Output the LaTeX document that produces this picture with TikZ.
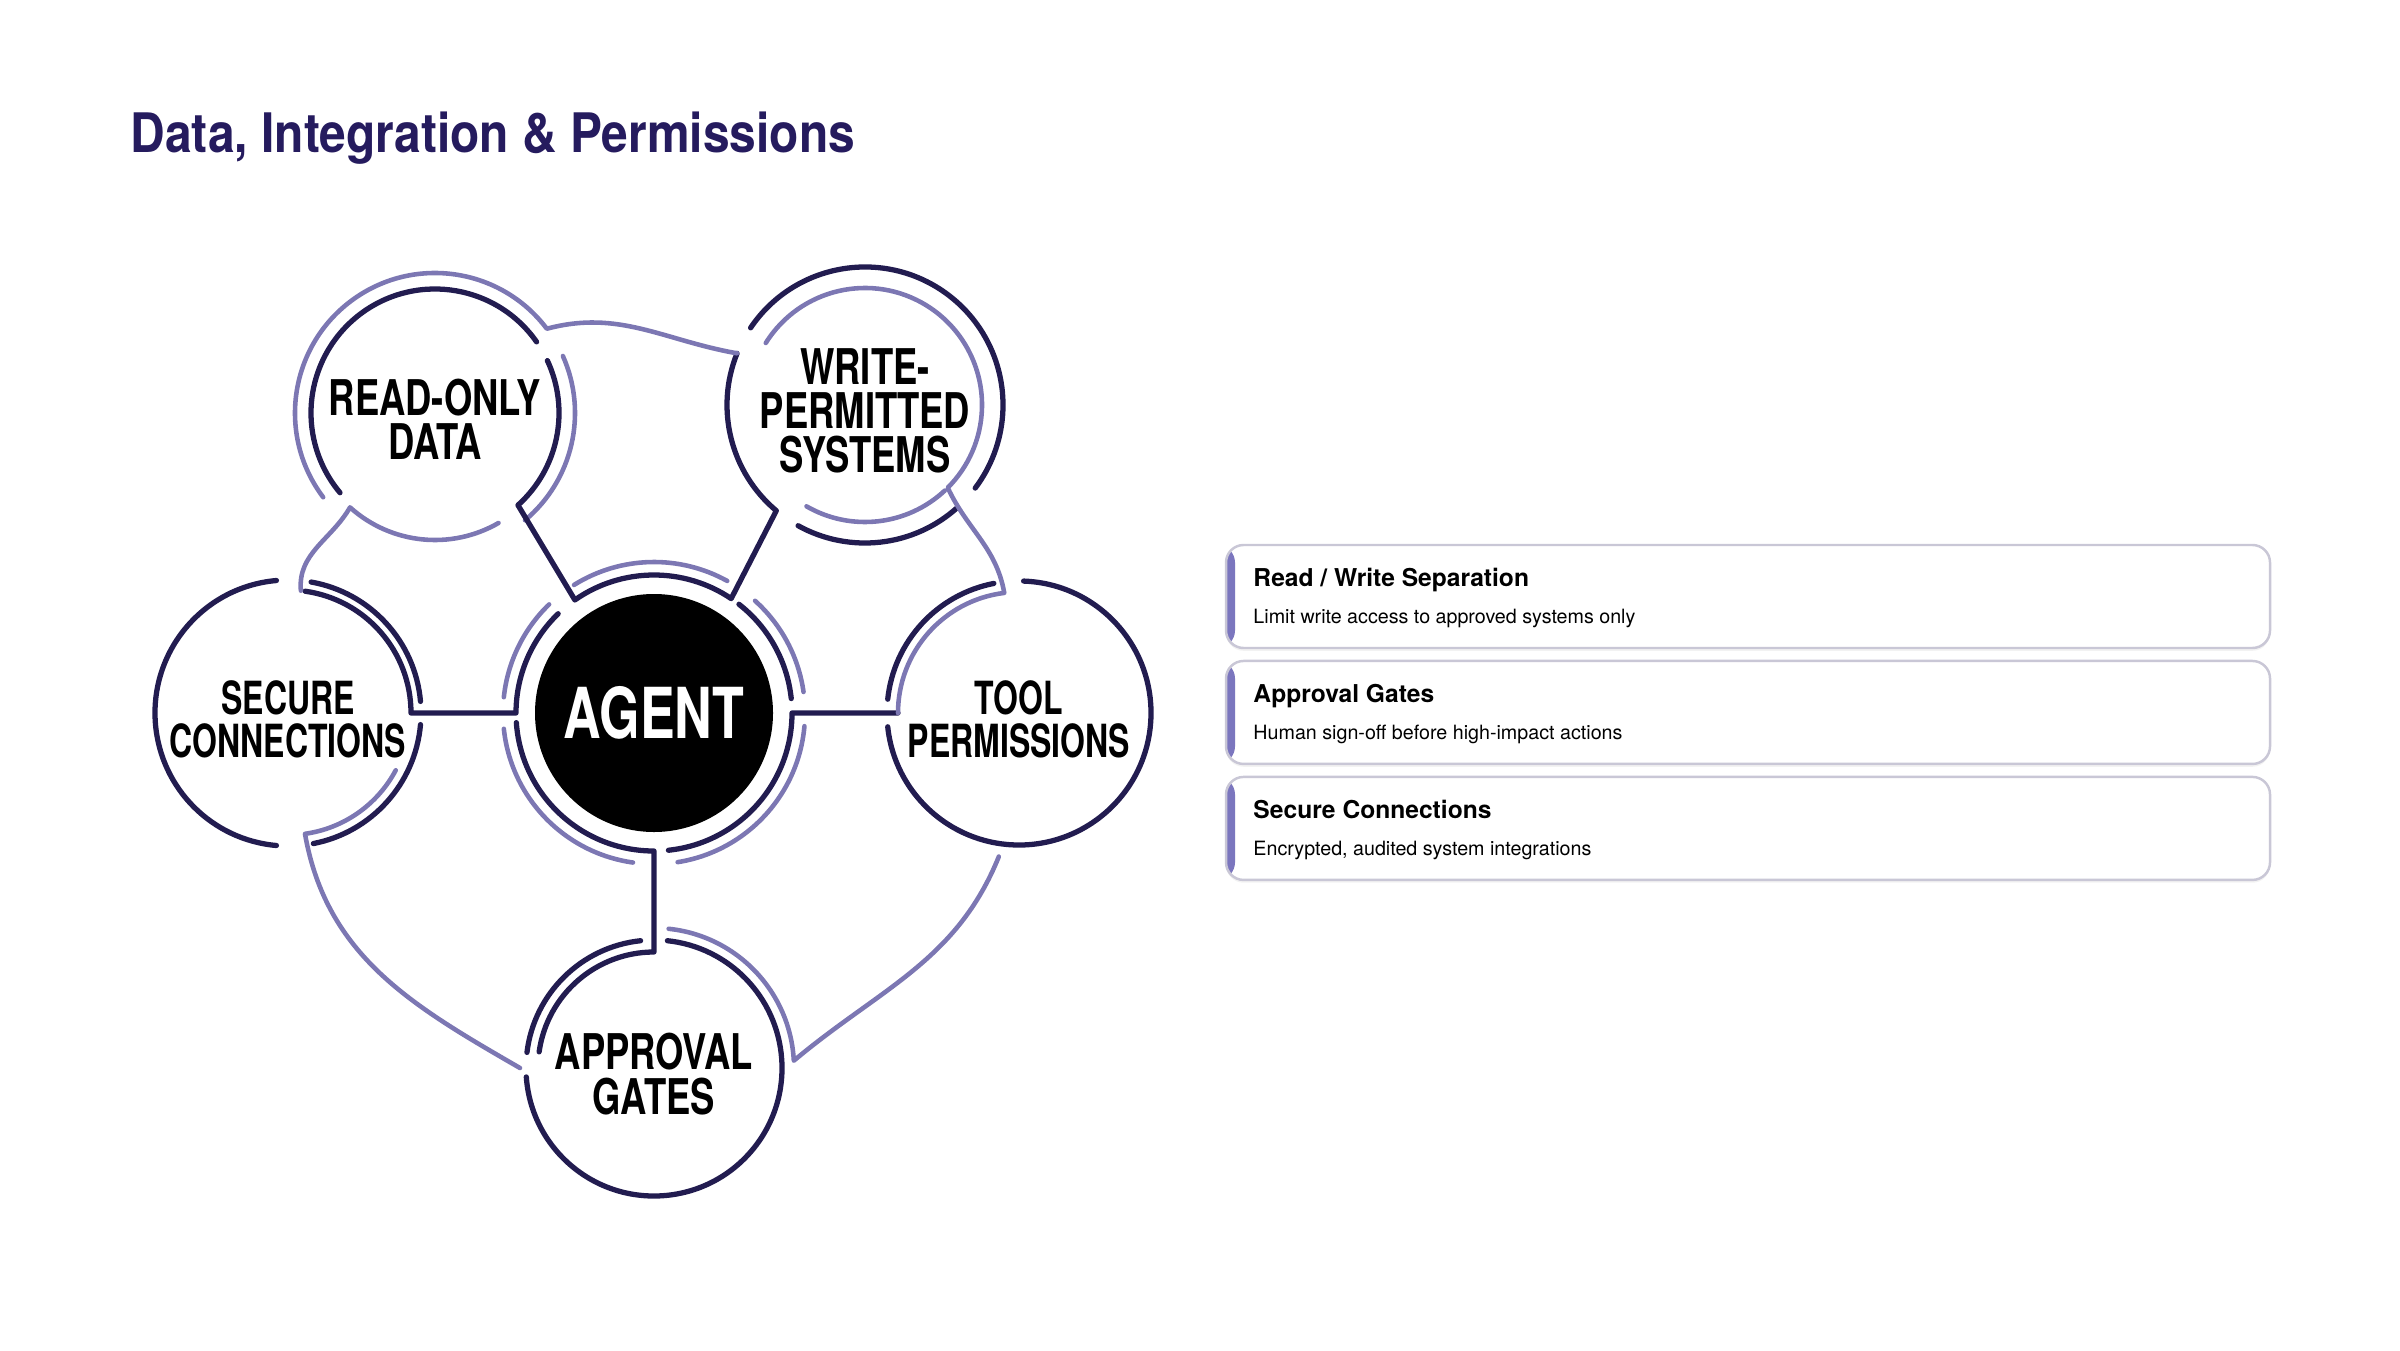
\documentclass[tikz,border=0pt]{standalone}
\usepackage{fontspec}
\setmainfont{TeX Gyre Heros}
\newfontfamily\condfont[FakeStretch=0.74]{TeX Gyre Heros}
\newfontfamily\narrowfont[FakeStretch=0.70]{TeX Gyre Heros}
\newfontfamily\headfont[FakeStretch=0.88]{TeX Gyre Heros}
\usepackage{tikz}
\usetikzlibrary{positioning,shadows}
\definecolor{navy}{HTML}{221C50}
\definecolor{lav}{HTML}{7C77B3}
\definecolor{titleink}{HTML}{251B5E}
\definecolor{accent}{HTML}{7B76BE}
\definecolor{cardline}{HTML}{C9C7D6}
\tikzset{
  navyline/.style={draw=navy, line width=1.5pt, line cap=round, line join=round},
  lavline/.style={draw=lav, line width=1.3pt, line cap=round, line join=round},
  ringnode/.style={circle, inner sep=0pt, outer sep=0pt},
  ringlabel/.style={align=center, inner sep=0pt, yshift=-0.06cm, font=\condfont\bfseries\fontsize{14}{12.6}\selectfont},
  widelabel/.style={ringlabel, font=\narrowfont\bfseries\fontsize{13}{12.2}\selectfont},
  cardbox/.style={draw=cardline, line width=0.7pt, rounded corners=5pt, fill=white, minimum width=10.44cm, minimum height=1.03cm,
    drop shadow={shadow xshift=0pt, shadow yshift=-0.8pt, opacity=0.10},
    path picture={\fill[accent] (path picture bounding box.south west) rectangle ([xshift=0.09cm]path picture bounding box.north west);}},
  cardtitle/.style={anchor=base west, inner sep=0pt, font=\bfseries\fontsize{7}{8}\selectfont},
  cardtext/.style={anchor=base west, inner sep=0pt, font=\fontsize{5.6}{7}\selectfont}
}

\begin{document}
\begin{tikzpicture}
  \useasboundingbox (0,0) rectangle (24,13.5);
  \node[anchor=base west, inner sep=0pt, text=titleink, font=\headfont\bfseries\fontsize{15.5}{18}\selectfont] (title) at (1.30,11.97) {Data, Integration \& Permissions};

  \node[ringnode, minimum size=2.38cm, fill=black, text=white, font=\condfont\bfseries\fontsize{20}{20}\selectfont] (agent) at (6.54,6.37) {AGENT};
  \node[ringnode, minimum size=2.76cm] (agentring) at (agent.center) {};
  \node[ringnode, minimum size=2.48cm, label={[ringlabel]center:{READ-ONLY\\DATA}}] (rodata) at (4.35,9.37) {};
  \node[ringnode, minimum size=2.76cm, label={[ringlabel]center:{WRITE-\\PERMITTED\\SYSTEMS}}] (wpsys) at (8.65,9.45) {};
  \node[ringnode, minimum size=2.66cm, label={[widelabel]center:{SECURE\\CONNECTIONS}}] (secconn) at (2.88,6.37) {};
  \node[ringnode, minimum size=2.64cm, label={[widelabel]center:{TOOL\\PERMISSIONS}}] (toolperm) at (10.19,6.37) {};
  \node[ringnode, minimum size=2.56cm, label={[ringlabel]center:{APPROVAL\\GATES}}] (apgates) at (6.54,2.82) {};

  % rings round the agent
  \draw[navyline] ([shift={(52:1.38)}]agent.center) arc[start angle=52, end angle=6, radius=1.38];
  \draw[lavline] ([shift={(122:1.51)}]agent.center) arc[start angle=122, end angle=61, radius=1.51];
  \draw[lavline] ([shift={(134:1.51)}]agent.center) arc[start angle=134, end angle=174, radius=1.51];
  \draw[lavline] ([shift={(186:1.51)}]agent.center) arc[start angle=186, end angle=262, radius=1.51];
  \draw[lavline] ([shift={(-81:1.51)}]agent.center) arc[start angle=-81, end angle=-5, radius=1.51];
  \draw[lavline] ([shift={(48:1.51)}]agent.center) arc[start angle=48, end angle=8, radius=1.51];

  % satellite rings
  \draw[navyline] ([shift={(35:1.24)}]rodata.center) arc[start angle=35, end angle=220, radius=1.24];
  \draw[lavline] ([shift={(24:1.40)}]rodata.center) arc[start angle=24, end angle=-50, radius=1.40];
  \draw[navyline] ([shift={(146:1.38)}]wpsys.center) arc[start angle=146, end angle=-37, radius=1.38];
  \draw[navyline] ([shift={(-119:1.38)}]wpsys.center) arc[start angle=-119, end angle=-48, radius=1.38];
  \draw[lavline] ([shift={(-120:1.17)}]wpsys.center) arc[start angle=-120, end angle=-47, radius=1.17];
  \draw[navyline] ([shift={(95:1.33)}]secconn.center) arc[start angle=95, end angle=265, radius=1.33];
  \draw[navyline] ([shift={(80:1.33)}]secconn.center) arc[start angle=80, end angle=5, radius=1.33];
  \draw[navyline] ([shift={(-5:1.33)}]secconn.center) arc[start angle=-5, end angle=-79, radius=1.33];
  \draw[navyline] ([shift={(88:1.32)}]toolperm.center) arc[start angle=88, end angle=-174, radius=1.32];
  \draw[navyline] ([shift={(101:1.32)}]toolperm.center) arc[start angle=101, end angle=174, radius=1.32];
  \draw[navyline] ([shift={(184:1.28)}]apgates.center) arc[start angle=184, end angle=444, radius=1.28];
  \draw[navyline] ([shift={(96:1.28)}]apgates.center) arc[start angle=96, end angle=173, radius=1.28];

  % dark links
  \draw[navyline] ([shift={(25:1.24)}]rodata.center) arc[start angle=25, end angle=-48, radius=1.24]
    -- ([shift={(125:1.38)}]agent.center) arc[start angle=125, end angle=56, radius=1.38]
    -- ([shift={(230:1.38)}]wpsys.center) arc[start angle=230, end angle=158, radius=1.38];
  \draw[navyline] ([shift={(82:1.23)}]secconn.center) arc[start angle=82, end angle=0, radius=1.23]
    -- (agentring.180) arc[start angle=180, end angle=134, radius=1.38];
  \draw[navyline] ([shift={(-84:1.38)}]agent.center) arc[start angle=-84, end angle=0, radius=1.38]
    -- ([shift={(180:1.21)}]toolperm.center);
  \draw[navyline] ([shift={(184:1.38)}]agent.center) arc[start angle=184, end angle=270, radius=1.38]
    -- ([shift={(90:1.16)}]apgates.center) arc[start angle=90, end angle=172, radius=1.16];

  % light links
  \draw[lavline] ([shift={(217:1.40)}]rodata.center) arc[start angle=217, end angle=37, radius=1.40]
    to[out=15, in=170] ([shift={(158:1.38)}]wpsys.center);
  \draw[lavline] ([shift={(300:1.27)}]rodata.center) arc[start angle=300, end angle=228, radius=1.27]
    to[out=240, in=95] ([shift={(84:1.23)}]secconn.center);
  \draw[lavline] ([shift={(148:1.17)}]wpsys.center) arc[start angle=148, end angle=-45, radius=1.17]
    to[out=-65, in=100] ([shift={(97:1.21)}]toolperm.center) arc[start angle=97, end angle=180, radius=1.21];
  \draw[lavline] ([shift={(-28:1.22)}]secconn.center) arc[start angle=-28, end angle=-82, radius=1.22]
    to[out=-80, in=150] ([shift={(180:1.34)}]apgates.center);
  \draw[lavline] ([shift={(-98:1.45)}]toolperm.center) to[out=-112, in=40] ([shift={(3:1.40)}]apgates.center)
    arc[start angle=3, end angle=84, radius=1.40];

  % cards
  \node[cardbox] (rwcard) at (17.48,7.535) {};
  \node[cardbox, below=0.105cm of rwcard] (agcard) {};
  \node[cardbox, below=0.105cm of agcard] (sccard) {};
  \node[cardtitle] (rwtitle) at ([xshift=0.28cm, yshift=-0.43cm]rwcard.north west) {Read / Write Separation};
  \node[cardtext] (rwtext) at ([xshift=0.28cm, yshift=-0.80cm]rwcard.north west) {Limit write access to approved systems only};
  \node[cardtitle] (agtitle) at ([xshift=0.28cm, yshift=-0.43cm]agcard.north west) {Approval Gates};
  \node[cardtext] (agtext) at ([xshift=0.28cm, yshift=-0.80cm]agcard.north west) {Human sign-off before high-impact actions};
  \node[cardtitle] (sctitle) at ([xshift=0.28cm, yshift=-0.43cm]sccard.north west) {Secure Connections};
  \node[cardtext] (sctext) at ([xshift=0.28cm, yshift=-0.80cm]sccard.north west) {Encrypted, audited system integrations};
\end{tikzpicture}
\end{document}
